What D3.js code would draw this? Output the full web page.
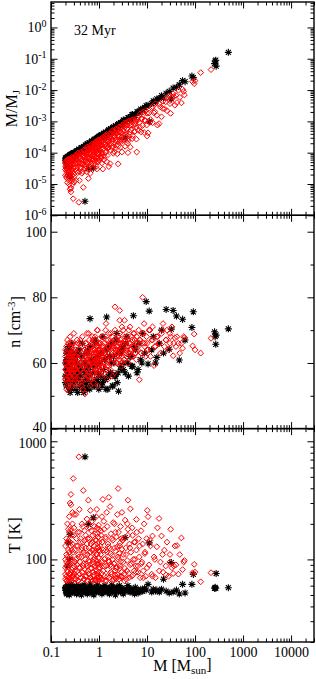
<!DOCTYPE html>
<html><head><meta charset="utf-8">
<script src="https://cdn.jsdelivr.net/npm/d3@7"></script>
<style>body{margin:0;background:#fff}svg{display:block}</style>
</head><body><svg id="c" width="316" height="679"></svg>
<script>
// ---------- data ----------
const ageLabel = "32 Myr";
const xTickLabels = ["0.1","1","10","100","1000","10000"];
const mjTickExps = [0,-1,-2,-3,-4,-5,-6];
const nTickLabels = [40,60,80,100];
const tTickLabels = [100,1000];
const xDomain = [0.1, 30000];
const mjDomain = [1e-6, 6.5];
const nDomain = [40, 105];
const tDomain = [20, 1280];

// black asterisks: mass [Msun], M/MJ, n [cm^-3], T [K]
const massBlack = [0.20,0.20,0.21,0.21,0.21,0.22,0.22,0.22,0.23,0.23,
 0.23,0.24,0.24,0.24,0.25,0.25,0.25,0.26,0.26,0.27,
 0.27,0.28,0.28,0.29,0.29,
 0.30,0.31,0.32,0.33,0.34,0.35,0.36,0.37,0.38,0.39,
 0.40,0.42,0.44,0.46,0.48,0.50,0.51,0.52,0.54,0.56,
 0.58,0.60,0.62,0.65,0.68,0.70,0.73,0.76,0.80,0.83,
 0.86,0.90,0.93,0.96,0.99,
 1.03,1.08,1.12,1.18,1.24,1.30,1.36,1.44,1.52,1.60,
 1.70,1.80,1.90,2.0,2.1,2.25,2.4,2.55,2.7,2.9,
 3.1,3.3,3.5,3.8,4.1,4.4,4.8,5.2,5.7,6.2,
 6.8,7.4,8.1,8.9,9.6,
 10.5,11.1,12.5,13.5,15,16,18,20,22,25,
 29,32,35,41,47,55,62,
 86,92,255,262,270,275,494,
 0.20,0.21,0.22,0.22,0.23,0.24,0.25,0.26,0.27,0.28,
 0.30,0.32,0.34,0.36,0.38,0.41,0.43,0.45,0.47,0.49,
 0.53,0.55,0.57,0.61,0.64,0.66,0.71,0.75,0.78,0.82,
 0.88,0.94,0.98,1.06,1.15,1.21,1.27,1.33,1.40,1.48,
 1.56,1.65,1.75,1.85,1.95,2.05,2.2,2.35,2.5,2.65,
 2.8,3.0,3.2,3.6,4.0,4.6,5.0,5.5,6.5,7.8];
const mjBlack = [6.8e-5,5.5e-5,7.0e-5,5.0e-5,6.2e-5,7.4e-5,3.8e-5,6.0e-5,7.8e-5,2.0e-5,
 5.6e-5,8.0e-5,3.4e-5,6.4e-5,8.4e-5,1.7e-5,6.6e-5,8.8e-5,6.8e-5,9.0e-5,
 7.2e-5,9.5e-5,7.5e-5,9.8e-5,7.8e-5,
 1.0e-4,8.1e-5,1.0e-4,8.1e-5,1.15e-4,9.8e-5,1.16e-4,9.3e-5,1.3e-4,1.1e-4,
 1.26e-4,1.1e-4,1.46e-4,1.32e-4,1.55e-4,1.22e-4,2.8e-6,1.75e-4,1.5e-4,1.76e-4,
 1.52e-4,3.1e-5,2.06e-4,1.93e-4,1.67e-4,2.28e-4,2.04e-4,3.2e-5,2.7e-4,2.27e-4,
 2.7e-4,2.27e-4,3.1e-4,2.75e-4,3.1e-4,
 3.35e-4,2.85e-4,3.8e-4,3.3e-4,3.9e-4,3.2e-4,4.5e-4,4.3e-4,4.15e-4,5.4e-4,
 4.8e-4,5.7e-4,4.8e-4,6.65e-4,6.0e-4,7.1e-4,6.4e-4,8.5e-4,7.6e-4,9.1e-4,
 7.9e-4,1.1e-3,3.0e-4,1.13e-3,1.32e-3,1.15e-3,1.6e-3,1.55e-3,1.56e-3,2.0e-3,
 1.9e-3,2.46e-3,2.4e-3,2.8e-3,3.2e-3,
 3.3e-3,1.0e-3,3.7e-3,4.5e-3,4.2e-3,5.2e-3,5.4e-3,6.6e-3,5.6e-3,7.9e-3,
 9.1e-3,5.2e-3,0.0116,0.0122,0.0148,0.02,0.0185,
 0.028,0.025,0.07,0.085,0.09,0.058,0.16,
 6.3e-5,5.1e-5,7.3e-5,4.6e-5,6.8e-5,6.3e-5,8.6e-5,5.9e-5,8.3e-5,7.1e-5,
 9.5e-5,7.6e-5,1.1e-4,9.5e-5,1.17e-4,1.0e-4,1.43e-4,1.23e-4,1.48e-4,1.11e-4,
 1.7e-4,1.39e-4,1.94e-4,1.71e-4,2.0e-4,1.62e-4,2.36e-4,2.05e-4,2.46e-4,1.95e-4,
 2.86e-4,2.47e-4,3.33e-4,2.97e-4,3.7e-4,2.96e-4,4.2e-4,3.6e-4,4.4e-4,3.4e-4,
 5.1e-4,4.3e-4,5.9e-4,5.2e-4,6.1e-4,5.0e-4,7.3e-4,6.4e-4,7.9e-4,6.3e-4,
 9.1e-4,7.9e-4,1.09e-3,1.01e-3,1.29e-3,1.21e-3,1.66e-3,1.54e-3,2.05e-3,2.3e-3];
const nBlack = [56,60,63,53,58,61,57,54,65,59,
 55,62,57,52,60,64,51,58,62,55,
 66,53,60,57,63,
 54,58,61,52,56,60,55,63,57,53,
 59,56,62,54,51,58,57,60,55,52,
 64,58,56,73.5,54,61,57,60,53,59,
 66,55,62,57,52,
 60,56,63,54,58,61,55,74,52,65,
 57,60,53,62,56,67,54,51.4,63,58,
 65,60,57,68,56,62,59,74.4,64,57,
 66,61,69,63,78.7,
 59.7,75.8,64,68,60,61.7,66,70,63,76.3,
 64.2,70.3,76,74.3,60.9,73.3,67,
 70.8,75.6,69.5,68,65.7,68.5,70.4,
 54,61,59,64,56,60,57,62,52,58,
 55,62,57,51,64,58,53,66,52,60,
 54,63,53,59,52,65,54,61,53,67,
 55,60,54,63,53,68,55,61,52,64,
 56,62,57,66,53,60,56,69,57,63,
 59,64,58,66,60,62,59,65,58,60];
const tBlack = [55,58,54,57,52,56,88,59,53,138,
 60,55,100,58,54,163,57,52,56,54,
 59,55,57,53,56,
 56,53,57,55,59,54,52,58,55,56,
 54,57,53,58,55,56,738,54,57,53,
 56,198,55,58,52,56,54,225,57,55,
 53,58,55,56,54,
 55,57,53,56,58,54,55,57,53,56,
 54,58,55,56,53,57,55,54,58,55,
 53,56,153,55,57,53,56,54,58,55,
 53,56,54,57,55,
 61.5,138,53,56,54,55,53,56,68,54,
 52,94,53,55,51,61.5,52,
 61.5,74.7,57,58,57,76,57.6,
 57,51,53,61,56,50,59,55,62,53,
 56,58,51,56,60,57,50,59,54,61,
 53,57,51,58,54,62,53,57,50,58,
 54,61,53,57,51,58,54,60,53,57,
 55,51,54,61,53,57,50,58,54,60,
 53,57,51,54,60,53,55,51,52,54];

// red diamonds: mass [Msun], M/MJ, n [cm^-3], T [K]
const massRed = [0.20,0.20,0.21,0.21,0.21,0.22,0.22,0.22,0.23,0.23,
 0.23,0.24,0.24,0.24,0.25,0.25,0.25,0.26,0.26,0.26,
 0.26,0.27,0.27,0.28,0.28,0.29,0.29,0.30,0.30,0.30,
 0.31,0.32,0.33,0.33,0.34,0.35,0.36,0.37,0.38,0.38,
 0.39,0.40,0.41,0.42,0.43,0.44,0.45,0.46,0.47,0.48,
 0.49,0.50,0.51,0.52,0.53,0.55,0.56,0.57,0.58,0.60,
 0.61,0.62,0.64,0.65,0.66,0.67,0.68,0.70,0.71,0.72,
 0.74,0.75,0.77,0.78,0.80,0.81,0.83,0.84,0.86,0.87,
 0.89,0.90,0.92,0.93,0.95,0.96,0.97,0.98,0.99,1.00,
 1.02,1.05,1.07,1.10,1.13,1.16,1.20,1.22,1.26,1.30,
 1.33,1.37,1.41,1.45,1.50,1.55,1.60,1.60,1.65,1.70,
 1.75,1.80,1.86,1.92,1.98,2.05,2.10,2.15,2.20,2.30,
 2.40,2.50,2.50,2.60,2.70,2.70,2.80,2.95,3.10,3.20,
 3.35,3.50,3.65,3.80,4.00,4.00,4.20,4.40,4.50,4.70,
 4.90,5.10,5.40,5.60,5.90,6.00,6.10,6.40,6.70,6.90,
 7.20,7.50,7.80,8.10,8.40,8.70,9.00,9.40,9.80,
 1.15,1.40,1.90,2.25,3.00,3.40,
 10.1,10.5,11.0,11.8,12.5,13.0,14.0,15.0,16.5,17.8,
 19.0,20.0,21.5,23.0,24.5,26.0,28.0,30.0,31.0,33.0,
 35.0,38.0,40.0,42.0,45.0,48.0,52.0,55.0,58.0,60.0,
 89,96,100,131,215,
 0.20,0.20,0.20,0.21,0.21,0.21,0.22,0.22,0.22,0.23,
 0.23,0.23,0.24,0.24,0.24,0.25,0.25,0.25,0.26,0.26,
 0.26,0.27,0.27,0.28,0.28,0.28,0.29,0.29,0.30,0.30,
 0.31,0.31,0.32,0.33,0.34,0.34,0.35,0.36,0.36,0.37,
 0.38,0.39,0.40,0.40,0.41,0.42,0.43,0.44,0.45,0.46,
 0.47,0.48,0.49,0.50,0.51,0.52,0.53,0.54,0.55,0.56,
 0.57,0.58,0.59,0.60,0.61,0.62,0.63,0.64,0.66,0.67,
 0.68,0.69,0.70,0.72,0.73,0.74,0.76,0.77,0.78,0.79,
 0.80,0.82,0.83,0.85,0.86,0.88,0.89,0.90,0.91,0.92,
 0.93,0.94,0.95,0.96,0.97,0.98,0.99,0.99,1.00,1.00,
 1.02,1.04,1.06,1.08,1.10,1.12,1.14,1.17,1.19,1.22,
 1.25,1.28,1.31,1.34,1.38,1.42,1.46,1.50,1.54,1.58,
 1.62,1.67,1.72,1.77,1.82,1.88,1.94,2.0,2.05,2.1,
 2.15,2.2,2.25,2.3,2.35,2.4,2.45,2.5,2.55,2.6,
 2.65,2.7,2.75,2.8,2.85,2.9,2.95,3.0,1.48,1.85,
 3.1,3.2,3.3,3.45,3.6,3.7,3.85,4.0,4.15,4.3,
 4.45,4.6,4.8,5.0,5.2,5.4,5.6,5.8,6.0,3.9,
 6.5,7.0,7.6,8.3,9.1,10,11.5,13,14.5,16,18,21,25,30,36];
const mjRed = [5.0e-5,3.6e-5,4.9e-5,2.6e-5,3.2e-5,5.9e-5,1.9e-5,4.5e-5,2.5e-5,5.6e-5,
 1.36e-5,4.0e-5,6.4e-5,9.8e-6,6.8e-6,3.3e-5,5.5e-5,5.6e-6,7.5e-6,2.5e-5,
 6.6e-5,1.9e-5,5.2e-5,1.4e-5,6.5e-5,3.4e-6,3.3e-5,1.7e-5,1.15e-5,5.2e-5,
 6.8e-5,4.9e-5,1.3e-5,8.3e-5,3.3e-5,7.0e-5,2.3e-5,9.8e-5,2.6e-6,5.1e-5,
 1.3e-5,7.3e-5,3.2e-5,1.02e-4,4.7e-5,2.2e-5,9.3e-5,4.0e-5,7.8e-6,7.7e-5,
 1.23e-4,3.1e-5,6.3e-5,1.2e-4,5.4e-5,9.5e-5,2.45e-5,1.5e-4,4.5e-5,1.5e-5,
 9.0e-5,1.34e-4,3.6e-5,7.5e-5,2.2e-5,1.63e-4,6.2e-5,1.3e-4,3.3e-5,1.9e-4,
 5.2e-5,1.16e-4,8.4e-5,1.75e-4,4.4e-5,1.1e-4,2.1e-4,6.9e-5,1.66e-4,3.6e-5,
 1.1e-4,3.0e-5,2.24e-4,6.2e-5,1.6e-4,9.7e-5,2.6e-4,5.1e-5,2.0e-4,8.6e-5,
 2.36e-4,1.16e-4,1.8e-4,6.8e-5,2.85e-4,1.0e-4,3.0e-5,2.43e-4,5.9e-5,1.86e-4,
 3.5e-4,1.0e-4,2.4e-4,5.1e-5,3.5e-4,1.5e-4,3.6e-5,2.5e-4,4.0e-4,4.5e-5,
 2.1e-4,3.7e-4,1.45e-4,5.1e-4,9.6e-5,3.3e-4,2.1e-4,4.8e-4,1.4e-4,4.3e-4,
 9.2e-5,4.4e-5,3.3e-4,6.5e-4,2.6e-4,4.7e-4,1.5e-4,6.8e-4,2.5e-4,4.9e-4,
 8.9e-4,1.6e-4,4.5e-4,7.6e-4,1.0e-4,2.8e-4,1.02e-3,4.5e-4,1.5e-4,7.6e-4,
 2.8e-4,1.14e-3,4.6e-4,8.0e-4,1.22e-3,2.7e-4,1.05e-4,1.1e-3,5.2e-4,9.2e-4,
 1.75e-3,4.6e-4,1.2e-3,7.4e-4,1.7e-3,4.4e-4,1.1e-3,2.2e-3,7.6e-4,
 4.7e-5,1.5e-4,2.7e-4,5.7e-4,1.05e-4,7.3e-4,
 3.4e-4,4.3e-4,1.84e-3,1.14e-3,2.7e-3,9.1e-4,1.86e-3,3.65e-3,7.6e-4,8.5e-4,
 2.9e-3,1.4e-3,4.4e-3,2.5e-3,4.2e-3,2.2e-3,6.5e-3,3.7e-3,1.8e-3,6.0e-3,
 7.6e-3,3.3e-3,6.7e-3,4.0e-3,9.9e-3,5.9e-3,3.9e-3,0.0106,9.0e-3,7.0e-3,
 0.0185,0.016,0.02,0.036,0.045,
 4.4e-5,2.9e-5,1.9e-5,5.6e-5,3.6e-5,1.6e-5,4.4e-5,2.9e-5,1.1e-5,5.8e-5,
 3.7e-5,1.9e-5,5.3e-5,2.8e-5,1.5e-5,6.1e-5,4.2e-5,2.2e-5,5.4e-5,3.7e-5,
 1.5e-5,7.2e-5,2.9e-5,5.1e-5,2.5e-5,9.8e-6,6.7e-5,4.3e-5,2.1e-5,6.6e-5,
 6.2e-5,3.4e-5,8.1e-5,4.7e-5,2.6e-5,7.9e-5,5.9e-5,3.5e-5,9.6e-5,4.6e-5,
 6.9e-5,2.5e-5,8.8e-5,6.2e-5,3.5e-5,1.02e-4,5.7e-5,4.5e-5,9.3e-5,2.5e-5,
 8.1e-5,5.5e-5,1.23e-4,4.1e-5,9.8e-5,7.4e-5,3.7e-5,1.25e-4,8.9e-5,5.1e-5,
 1.52e-4,7.2e-5,1.18e-4,3.0e-5,1.34e-4,6.3e-5,9.7e-5,5.0e-5,1.61e-4,8.9e-5,
 1.24e-4,4.3e-5,1.76e-4,7.8e-5,1.22e-4,6.4e-5,1.57e-4,1.1e-4,7.5e-5,1.82e-4,
 9.2e-5,1.42e-4,5.5e-5,2.26e-4,1.26e-4,7.2e-5,1.78e-4,1.12e-4,5.2e-5,2.06e-4,
 1.5e-4,9.2e-5,2.31e-4,7.1e-5,1.8e-4,1.32e-4,2.49e-4,1.07e-4,1.58e-4,5.9e-5,
 1.86e-4,1.0e-4,2.58e-4,1.34e-4,7.8e-5,2.42e-4,1.76e-4,1.0e-4,3.0e-4,1.32e-4,
 2.16e-4,7.6e-5,3.0e-4,1.85e-4,1.07e-4,3.8e-4,1.69e-4,2.9e-4,1.4e-4,2.3e-4,
 3.9e-4,1.7e-4,2.9e-4,1.18e-4,4.0e-4,2.4e-4,1.59e-4,5.0e-4,3.3e-4,1.06e-4,
 4.3e-4,2.4e-4,5.5e-4,1.7e-4,4.2e-4,2.35e-4,5.5e-4,3.6e-4,1.64e-4,6.6e-4,
 3.2e-4,5.0e-4,2.4e-4,6.5e-4,4.3e-4,2.25e-4,6.1e-4,3.2e-4,8.1e-5,3.2e-4,
 7.6e-4,4.0e-4,2.6e-4,6.4e-4,3.7e-4,9.3e-4,5.7e-4,2.4e-4,9.0e-4,3.9e-4,
 7.4e-4,5.3e-4,1.1e-3,3.5e-4,7.4e-4,1.08e-3,4.8e-4,1.0e-3,6.5e-4,2.0e-4,
 1.34e-3,6.7e-4,1.22e-3,2.0e-3,1.05e-3,1.82e-3,9.4e-4,3.0e-3,2.07e-3,1.57e-3,3.6e-3,2.6e-3,5.6e-3,4.6e-3,6.2e-3];
const nRed = [58,62,55,65,52,60,67,57,62,51.6,
 59,64,56,61,58,68,54,63,57,60,
 66,53,61,64,58,60,55,62,69,56,
 60,64,58,53,62,67,57,61,59,55,
 63,58,66,54,60,62,68,52,61,57,
 64,59,50.6,62,66,55,61,58,63,60,
 69,56,65,53,61,63,58,66,55,60,
 67,59,62,54,64,57,68,60,63,58,
 65,61,56,70,62,53,64,66,59,61,
 61,66,58,63,68,56,62,60,65,57,
 63,70,64,59,55,67,61,65,62,58,
 69,60,66,64,61,67,57,77.1,63,65,
 60,64,68,62,76,73,66,59,64,70,
 61,67,63,68,65,60,66,71,64,62,
 67,65,69,63,66,61,68,64,70,54.9,
 67,63,69,80,66,72,65,62,68,
 59,72,56,64,62,73,
 66,64,70,62,67,71,59.2,65,68,66,
 63,69,72,65,67,70,64,66,68,71,
 62.2,67.7,65,68,66,63,66,64.5,68,67.7,
 65.2,68.8,64,63,67.5,
 60,55,64,58,61,56,63,54,59,57,
 66,53,61,58,63,59,62,56,55,65,
 60,62,58,60,66,57,63,54,61,58,
 58,62,55,65,60,57,63,59,66,54,
 61,64,56,60,67,58,62,53,65,59,
 61,57,64,60,55,63,66,58,62,69,
 56,61,64,59,57,63,67,60,55,62,
 65,58,61,64,68,57,60,63,66,59,
 62,56,64,61,67,58,63,60,65,70,
 57,62,64,59,66,61,58,63,60,65,
 60,64,58,66,62,57,65,61,68,59,
 63,66,60,64,58,67,62,65,61,69,
 59,64,66,62,60,68,63,65,61,66,
 70,62,64,60,67,63,65,68,62,66,
 61,69,64,67,63,60,66,71,62,65,
 63,66,61,68,64,65,62,67,70,63,
 66,64,68,62,69,65,67,63,66,64,
 65,67,63,69,66,64,70,67,65,68,66,70,67,69,66];
const tRed = [68,85,72,110,95,66,140,78,120,70,
 180,90,66,230,300,105,75,355,290,130,
 68,160,82,200,72,484,115,185,240,88,
 75,95,240,68,130,80,170,66,738,105,
 265,85,150,70,120,200,78,140,383,92,
 68,175,110,72,125,88,220,66,150,317,
 98,76,185,115,260,70,135,84,210,66,
 160,95,120,74,190,103,68,145,82,230,
 110,265,70,165,90,125,66,195,78,140,
 72,118,90,175,68,140,322,80,210,100,
 66,155,88,250,72,128,335,95,70,280,
 112,78,150,66,205,92,125,74,170,84,
 240,398,105,68,130,88,190,72,145,95,
 66,215,110,80,317,160,70,125,268,92,
 185,74,140,100,78,218,170,88,150,105,
 70,175,95,135,80,200,112,72,150,
 230,120,100,68,250,76,
 260,230,90,130,75,158,105,70,185,222,
 95,158,78,120,88,140,72,110,180,85,
 76,130,90,131,75,110,152,82,95,98,
 77,90.8,78,64.7,77.2,
 75,100,130,66,88,150,80,105,200,68,
 92,145,75,115,170,70,90,140,78,100,
 180,66,120,85,135,250,72,98,160,75,
 80,120,68,100,150,72,90,130,66,110,
 85,170,75,95,140,70,105,125,78,190,
 88,115,68,145,82,100,160,72,92,135,
 66,110,80,200,75,125,95,150,70,105,
 85,175,68,120,90,140,78,100,130,72,
 115,88,165,66,98,145,80,110,185,74,
 92,128,70,155,84,104,68,120,94,180,
 85,130,70,110,160,76,95,140,68,120,
 88,180,72,102,150,66,115,82,135,98,
 70,125,90,165,75,108,145,68,92,200,
 80,118,70,155,86,128,74,100,170,68,
 112,84,138,72,96,150,78,122,190,88,
 70,110,150,84,125,68,98,180,76,135,
 90,115,72,160,100,80,140,88,120,200,
 78,130,92,70,115,85,145,72,100,128,80,110,74,95,88];

// ---------- drawing ----------
const FONT = "'Liberation Serif','Times New Roman',serif";
const svg = d3.select("#c");
const L = 51, R = 314;
const P = [[2, 215.3], [215.3, 428.6], [428.6, 642]];

const x = d3.scaleLog().domain(xDomain).range([L, R]);
const yTop = d3.scaleLog().domain(mjDomain).range([P[0][1], P[0][0]]);
const yMid = d3.scaleLinear().domain(nDomain).range([P[1][1], P[1][0]]);
const yBot = d3.scaleLog().domain(tDomain).range([P[2][1], P[2][0]]);

const isDecade = t => Math.abs(Math.log10(t) - Math.round(Math.log10(t))) < 1e-9;
const xAll = x.ticks();
const xMajor = xAll.filter(isDecade), xMinor = xAll.filter(t => !isDecade(t));

function styleAxis(g) {
  g.select(".domain").remove();
  g.selectAll(".tick line").attr("stroke", "#000").attr("stroke-width", 1);
  g.attr("font-family", FONT).attr("font-size", 14);
  g.selectAll(".tick text").attr("fill", "#000");
}
function ax(gen, tr, vals, size, fmt, pad) {
  const a = gen.tickValues(vals).tickSizeInner(-size).tickSizeOuter(0)
    .tickPadding(pad || 4).tickFormat(fmt || (() => ""));
  return svg.append("g").attr("transform", tr).call(a).call(styleAxis);
}
function xAxes(i, labelled) {
  const [y0, y1] = P[i];
  ax(d3.axisBottom(x), `translate(0,${y1})`, xMinor, 3.5);
  ax(d3.axisBottom(x), `translate(0,${y1})`, xMajor, 6.5,
     labelled ? ((d, k) => xTickLabels[k]) : null, 5.5);
  ax(d3.axisTop(x), `translate(0,${y0})`, xMinor, 3.5);
  ax(d3.axisTop(x), `translate(0,${y0})`, xMajor, 6.5);
}
function yAxes(y, major, minor, fmt) {
  ax(d3.axisLeft(y), `translate(${L},0)`, minor, 3.5);
  const g = ax(d3.axisLeft(y), `translate(${L},0)`, major, 6.5, fmt, 4.5);
  ax(d3.axisRight(y), `translate(${R},0)`, minor, 3.5);
  ax(d3.axisRight(y), `translate(${R},0)`, major, 6.5);
  return g;
}

// top panel axes
const mjMajor = mjTickExps.map(e => Math.pow(10, e));
const mjMinor = yTop.ticks().filter(t => !isDecade(t));
const gTopY = yAxes(yTop, mjMajor, mjMinor, d => "10");
gTopY.selectAll(".tick text").each(function(d, k) {
  const t = d3.select(this);
  t.text(null);
  t.append("tspan").text("10");
  t.append("tspan").attr("dy", "-0.55em").attr("font-size", 10).text(String(mjTickExps[k]));
});
xAxes(0, false);

// middle panel axes
const nMinor = [50, 70, 90];
const gMidY = yAxes(yMid, nTickLabels, nMinor, d => String(d));
gMidY.selectAll(".tick text").filter(d => d === 40).attr("y", -2);
xAxes(1, false);

// bottom panel axes
const tMinor = yBot.ticks().filter(t => !isDecade(t));
const gBotY = yAxes(yBot, tTickLabels, tMinor, d => String(d));
gBotY.selectAll(".tick text").filter(d => d === 1000).attr("y", 2);
xAxes(2, true);

// frames
P.forEach(([y0, y1]) => {
  svg.append("rect").attr("x", L).attr("y", y0).attr("width", R - L).attr("height", y1 - y0)
    .attr("fill", "none").attr("stroke", "#000").attr("stroke-width", 1.4);
});

// markers
const starPath = "M-3.5,0H3.5M0,-3.5V3.5M-2.5,-2.5L2.5,2.5M-2.5,2.5L2.5,-2.5";
const diamondPath = "M0,-2.9L2.9,0L0,2.9L-2.9,0Z";
const black = massBlack.map((m, i) => ({m, mj: mjBlack[i], n: nBlack[i], t: tBlack[i]}));
const red = massRed.map((m, i) => ({m, mj: mjRed[i], n: nRed[i], t: tRed[i]}));

function plot(key, y, i) {
  const [y0, y1] = P[i];
  const clipId = "clip" + i;
  svg.append("clipPath").attr("id", clipId).append("rect")
    .attr("x", L).attr("y", y0).attr("width", R - L).attr("height", y1 - y0);
  const g = svg.append("g").attr("clip-path", `url(#${clipId})`);
  g.selectAll(".s").data(black.filter(d => d[key] != null)).join("path")
    .attr("d", starPath).attr("transform", d => `translate(${x(d.m)},${y(d[key])})`)
    .attr("fill", "none").attr("stroke", "#000").attr("stroke-width", 1.1);
  g.selectAll(".d").data(red.filter(d => d[key] != null)).join("path")
    .attr("d", diamondPath).attr("transform", d => `translate(${x(d.m)},${y(d[key])})`)
    .attr("fill", "none").attr("stroke", "#ff0000").attr("stroke-width", 1);
}
plot("mj", yTop, 0);
plot("n", yMid, 1);
plot("t", yBot, 2);

// texts
svg.append("text").attr("x", 74).attr("y", 35).attr("font-family", FONT).attr("font-size", 14)
  .text(ageLabel);

function yLabel(xp, yp, parts) {
  const t = svg.append("text").attr("transform", `translate(${xp},${yp}) rotate(-90)`)
    .attr("text-anchor", "middle").attr("font-family", FONT).attr("font-size", 16);
  parts.forEach(p => {
    const s = t.append("tspan").text(p.s);
    if (p.dy) s.attr("dy", p.dy);
    if (p.fs) s.attr("font-size", p.fs);
  });
}
yLabel(16.5, (P[0][0] + P[0][1]) / 2, [{s: "M/M"}, {s: "J", dy: "0.3em", fs: 11}]);
yLabel(20, (P[1][0] + P[1][1]) / 2, [{s: "n [cm"}, {s: "-3", dy: "-0.5em", fs: 11}, {s: "]", dy: "0.5em"}]);
yLabel(20, (P[2][0] + P[2][1]) / 2, [{s: "T [K]"}]);

const xl = svg.append("text").attr("x", (L + R) / 2).attr("y", 671).attr("text-anchor", "middle")
  .attr("font-family", FONT).attr("font-size", 16);
xl.append("tspan").text("M [M");
xl.append("tspan").attr("dy", "0.3em").attr("font-size", 11).text("sun");
xl.append("tspan").attr("dy", "-0.3em").text("]");
</script></body></html>
